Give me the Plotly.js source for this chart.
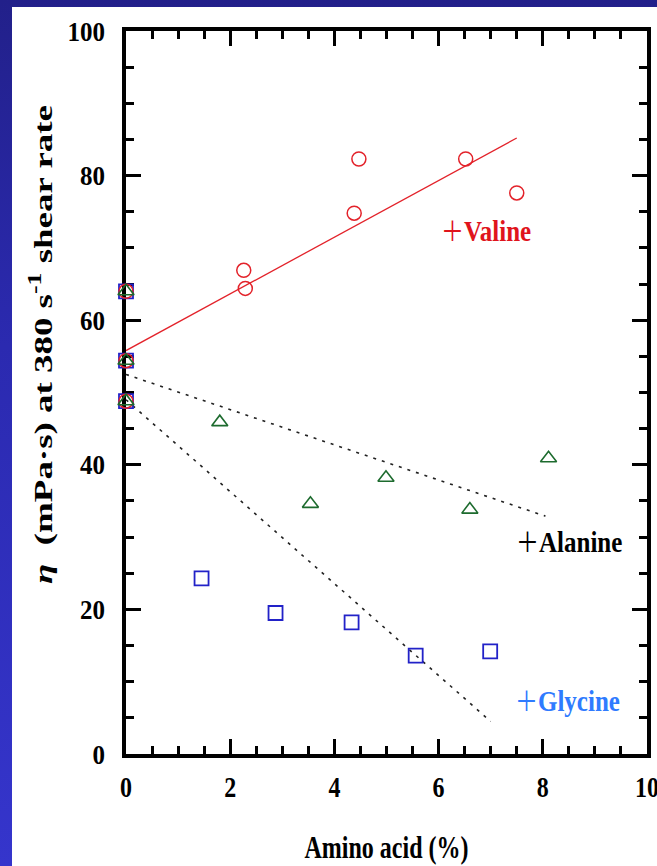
<!DOCTYPE html>
<html>
<head>
<meta charset="utf-8">
<script src="https://cdn.plot.ly/plotly-3.0.1.min.js"></script>
<style>
  html, body { margin: 0; padding: 0; }
  body { width: 657px; height: 866px; overflow: hidden;
         background: linear-gradient(to bottom, #22208a 0%, #2b2ab0 40%, #3535cc 100%); }
  #chart { position: absolute; left: 12px; top: 7px; width: 645px; height: 859px; background: #ffffff; }
</style>
</head>
<body>
<div id="chart"></div>
<script>
// control (0 %) values shared by all series
const controlX = [0, 0, 0];
const controlY = [64.0, 54.4, 48.8];

const valineX = [2.26, 2.29, 4.38, 4.47, 6.52, 7.50];
const valineY = [66.9, 64.4, 74.8, 82.3, 82.3, 77.6];

const alanineX = [1.80, 3.54, 4.99, 6.60, 8.11];
const alanineY = [45.9, 34.6, 38.2, 33.8, 40.9];

const glycineX = [1.45, 2.87, 4.33, 5.56, 6.99];
const glycineY = [24.3, 19.5, 18.2, 13.6, 14.2];

// fitted trend lines (end points)
const valineFitX = [0, 7.5];   const valineFitY = [55.8, 85.2];
const alanineFitX = [0, 8.05]; const alanineFitY = [52.5, 32.9];
const glycineFitX = [0, 7.0];  const glycineFitY = [49.0, 4.5];

const xTickVals = [0, 2, 4, 6, 8, 10];
const yTickVals = [0, 20, 40, 60, 80, 100];

const seriesNames = ['Valine', 'Alanine', 'Glycine'];
const xTitle = 'Amino acid (%)';
const yTitle = '<i>η</i>  (mPa·s) at 380 s<sup>-1</sup> shear rate';

const RED = '#e3222a', GREEN = '#1d6b2e', BLUE = '#2222c8', GLYTXT = '#2f7bff';
const FONT = '"Liberation Serif", "Times New Roman", serif';

const traces = [
  { x: glycineFitX, y: glycineFitY, mode: 'lines', line: { color: '#222', width: 1.6, dash: '3px,6px' }, hoverinfo: 'skip' },
  { x: alanineFitX, y: alanineFitY, mode: 'lines', line: { color: '#222', width: 1.6, dash: '3px,6px' }, hoverinfo: 'skip' },
  { x: valineFitX, y: valineFitY, mode: 'lines', line: { color: RED, width: 1.3 }, hoverinfo: 'skip' },
  { name: seriesNames[2], x: controlX.concat(glycineX), y: controlY.concat(glycineY), mode: 'markers', cliponaxis: false,
    marker: { symbol: 'square-open', size: 14, color: BLUE, line: { width: 1.8, color: BLUE } } },
  { name: seriesNames[0], x: controlX.concat(valineX), y: controlY.concat(valineY), mode: 'markers', cliponaxis: false,
    marker: { symbol: 'circle-open', size: 14, color: RED, line: { width: 1.5, color: RED } } },
  { name: seriesNames[1], x: controlX.concat(alanineX), y: controlY.concat(alanineY), mode: 'markers', cliponaxis: false,
    marker: { symbol: 'triangle-up-open', size: 14, color: GREEN, line: { width: 1.6, color: GREEN } } }
];

function label(txt, color, x, y) {
  return { x: x, y: y, xref: 'x', yref: 'y', xanchor: 'left', yanchor: 'middle', showarrow: false,
           text: "<span style=\"font-family:'Noto Sans CJK JP';font-weight:normal;font-size:23px\">＋</span><b>" + txt + '</b>',
           font: { family: FONT, size: 25, color: color } };
}

const layout = {
  width: 645, height: 859,
  paper_bgcolor: '#ffffff', plot_bgcolor: '#ffffff',
  margin: { l: 114, r: 10, t: 24, b: 112 },
  showlegend: false,
  font: { family: FONT, color: '#000' },
  xaxis: {
    range: [0, 10], tickvals: xTickVals, ticktext: xTickVals.map(String),
    showgrid: false, zeroline: false, showline: true, linewidth: 4, linecolor: '#000', mirror: 'ticks',
    ticks: 'inside', ticklen: 15, tickwidth: 3, tickcolor: '#000', layer: 'below traces',
    minor: { dtick: 0.5, tick0: 0, ticks: 'inside', ticklen: 8, tickwidth: 3, tickcolor: '#000', showgrid: false },
    tickfont: { family: FONT, size: 24, weight: 'bold', color: '#000' },
    ticklabelstandoff: 9, ticklabeloverflow: 'allow',
    title: { text: '<b>' + xTitle + '</b>', font: { family: FONT, size: 24, color: '#000' }, standoff: 40 }
  },
  yaxis: {
    range: [0, 100], tickvals: yTickVals, ticktext: yTickVals.map(String),
    showgrid: false, zeroline: false, showline: true, linewidth: 4, linecolor: '#000', mirror: 'ticks',
    ticks: 'inside', ticklen: 15, tickwidth: 3, tickcolor: '#000', layer: 'below traces',
    minor: { dtick: 5, tick0: 0, ticks: 'inside', ticklen: 8, tickwidth: 3, tickcolor: '#000', showgrid: false },
    tickfont: { family: FONT, size: 25, weight: 'bold', color: '#000' },
    ticklabelstandoff: 12, ticklabeloverflow: 'allow',
    title: { text: '<b>' + yTitle + '</b>', font: { family: FONT, size: 26, color: '#000' }, standoff: 8 }
  },
  annotations: [
    label(seriesNames[0], '#e0141c', 6.0, 72.6),
    label(seriesNames[1], '#000000', 7.45, 29.6),
    label(seriesNames[2], GLYTXT, 7.42, 7.6)
  ]
};

// stretch rendered text to mimic the tall, narrow lettering of the original
function stretch(nodes, k, rotated, shift) {
  nodes.forEach(function (t) {
    const b = t.getBBox();
    const base = t.getAttribute('transform') || '';
    let extra;
    if (rotated) {
      const cx = b.x + b.width / 2;
      extra = ' translate(' + (cx + (shift || 0)) + ',0) scale(' + k + ',1) translate(' + (-cx) + ',0)';
    } else {
      const cy = b.y + b.height / 2;
      extra = ' translate(0,' + cy + ') scale(1,' + k + ') translate(0,' + (-cy) + ')';
    }
    t.setAttribute('transform', base + extra);
  });
}

Plotly.newPlot('chart', traces, layout, { displayModeBar: false, staticPlot: true }).then(function (gd) {
  stretch(gd.querySelectorAll('.g-ytitle text'), 1.42, true, 48);
  stretch(gd.querySelectorAll('.g-xtitle text'), 1.35, false);
  stretch(gd.querySelectorAll('.annotation-text'), 1.2, false);
  stretch(gd.querySelectorAll('.xtick text'), 1.2, false);
  stretch(gd.querySelectorAll('.ytick text'), 1.1, false);
});
</script>
</body>
</html>
